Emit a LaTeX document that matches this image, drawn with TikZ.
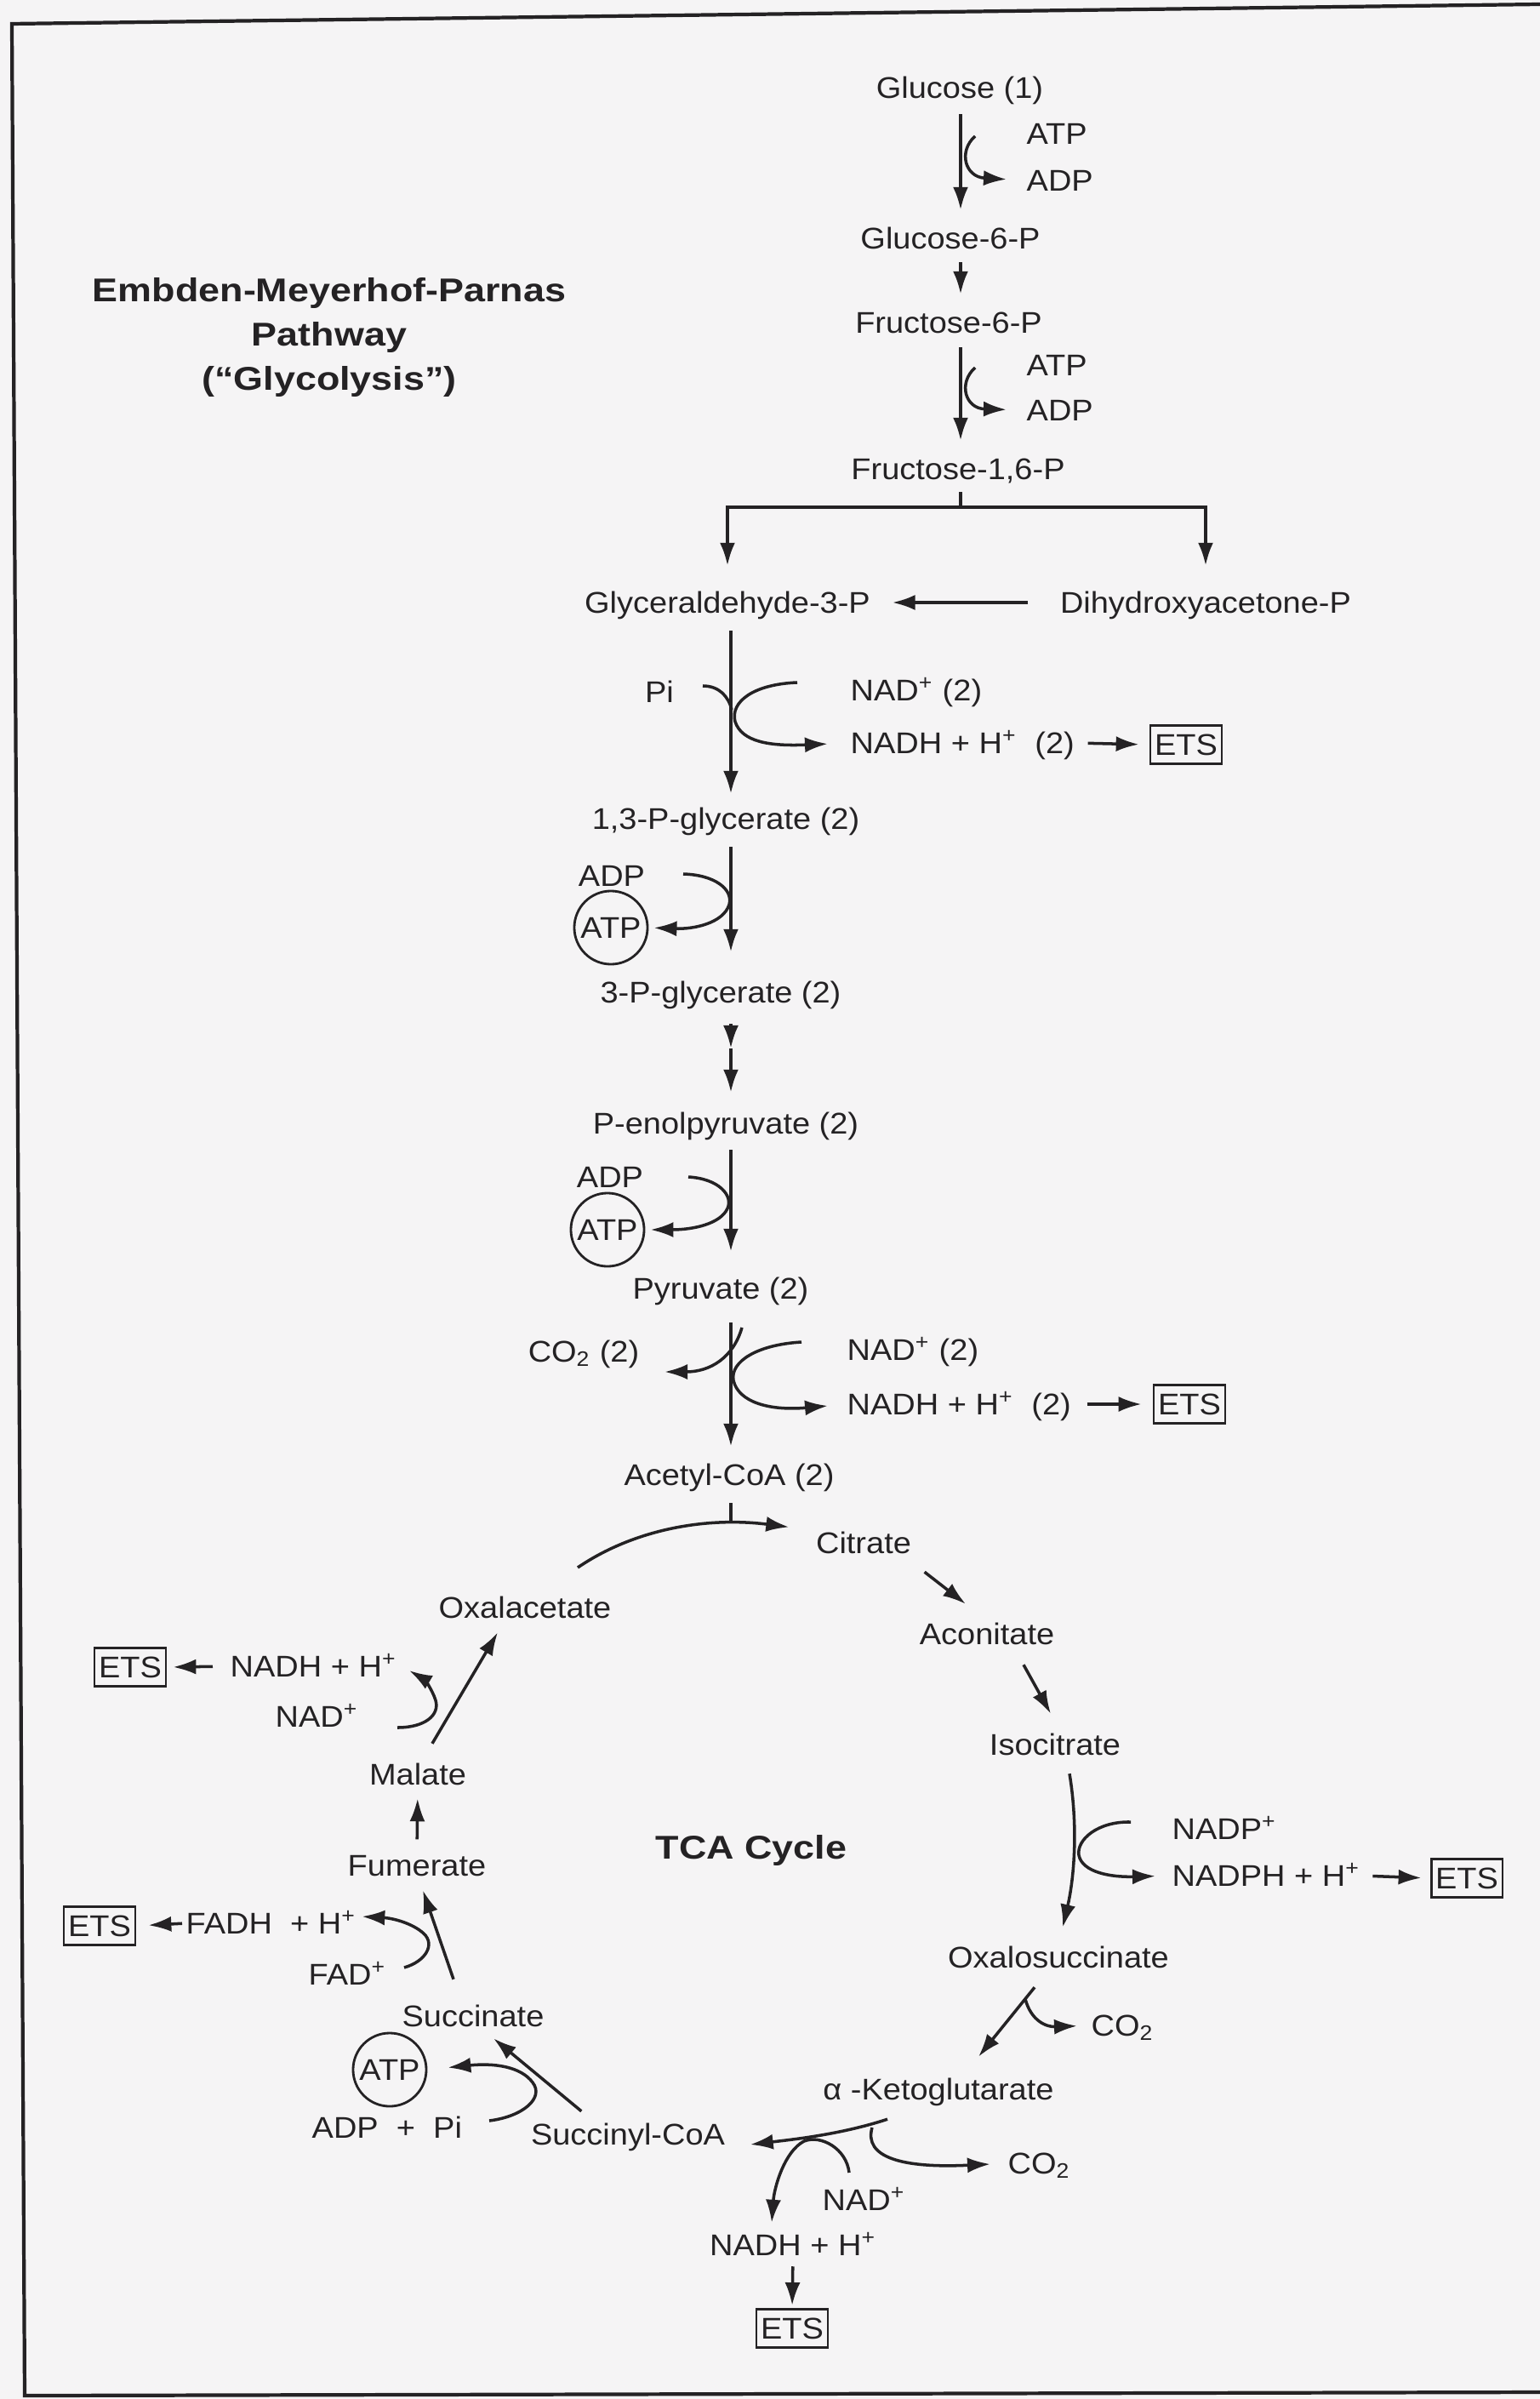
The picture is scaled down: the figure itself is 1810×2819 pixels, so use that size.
\documentclass[tikz,border=0pt]{standalone}
\usepackage{fontspec}
\setmainfont{Liberation Sans}[FakeStretch=1.08]
\newfontfamily\titlefont{Liberation Sans}[FakeStretch=1.16]
\usepackage{tikz}
\usetikzlibrary{
  arrows.meta,%
  calc,%
  positioning
}
\definecolor{paper}{RGB}{245,244,245}
\definecolor{ink}{RGB}{36,34,36}
\tikzset{>={Latex[length=2.7mm,width=1.8mm]}}
\tikzset{
  met/.style={inner sep=0pt, text height=2.5mm, text depth=0pt},
  ttl/.style={inner sep=0pt, text height=2.8mm, text depth=0pt,
    font=\titlefont\bfseries\fontsize{11pt}{13pt}\selectfont},
  ets/.style={draw, line width=0.8pt, inner xsep=0.5mm, inner ysep=1mm,
    text height=2.5mm, text depth=0pt},
  atp/.style={draw, circle, line width=0.8pt, minimum size=8.6mm, inner sep=0pt},
  flow/.style={->, line width=1.1pt, shorten <=1.8mm, shorten >=2mm},
  side/.style={->, line width=1pt},
  twig/.style={line width=1pt}
}

\begin{document}
\begin{tikzpicture}[x=0.01cm, y=-0.01cm, color=ink,
  font=\fontsize{10pt}{12pt}\selectfont]
  \fill[paper] (0,0) rectangle (1810,2819);
  \useasboundingbox (0,0) rectangle (1810,2819);
  % page frame
  \draw[line width=1.2pt] (1810,5) -- (14,28) -- (29,2815) -- (1810,2811);

  % title
  \node[ttl] (emp) at (387,340) {Embden-Meyerhof-Parnas};
  \node[ttl, below=2.3mm of emp] (pwy) {Pathway};
  \node[ttl, below=2.3mm of pwy] (gly) {(“Glycolysis”)};

  % glucose to fructose-1,6-P
  \coordinate (colA) at (1129,0); %
  \node[met] (glc) at (1128,103) {Glucose (1)};
  \node[met, anchor=west] (atpA) at (1206,157) {ATP};
  \node[met, anchor=west] (adpA) at (1206,212) {ADP};
  \node[met] (g6p) at (1117,280) {Glucose-6-P};
  \node[met] (f6p) at (1115,379) {Fructose-6-P};
  \node[met, anchor=west] (atpB) at (1206,429) {ATP};
  \node[met, anchor=west] (adpB) at (1206,482) {ADP};
  \node[met] (f16p) at (1126,551) {Fructose-1,6-P};
  \draw[flow] (glc.south -| colA) -- (g6p.north -| colA); %
  \draw[flow, shorten <=1.5mm] (g6p.south -| colA) -- (f6p.north -| colA); %
  \draw[flow, shorten <=1.6mm] (f6p.south -| colA) -- (f16p.north -| colA); %
  \coordinate (hkA) at (1146,160); %
  \coordinate (hkB) at (1146,432); %
  \draw[side, shorten >=2.3mm] (hkA) .. controls (1126,178) and (1134,208) .. (adpA.west); %
  \draw[side, shorten >=2.3mm] (hkB) .. controls (1126,450) and (1134,480) .. (adpB.west); %

  % split into the two trioses
  \node[met] (gap) at (855,708) {Glyceraldehyde-3-P};
  \node[met] (dhap) at (1417,708) {Dihydroxyacetone-P};
  \coordinate (fork) at (1129,596); %
  \draw[line width=1.1pt, shorten <=1.4mm] (f16p.south -| fork) -- (fork); %
  \draw[flow, shorten <=0pt, shorten >=3mm] (fork) -| (gap.north); %
  \draw[flow, shorten <=0pt, shorten >=3mm] (fork) -| (dhap.north); %
  \draw[flow, shorten <=3.7mm, shorten >=2.5mm] (dhap.west) -- (gap.east); %

  % glyceraldehyde-3-P to acetyl-CoA
  \coordinate (colB) at (859,0); %
  \node[met] (bpg) at (853,962) {1,3-P-glycerate (2)};
  \node[met] (pg3) at (847,1166) {3-P-glycerate (2)};
  \node[met] (pep) at (853,1320) {P-enolpyruvate (2)};
  \node[met] (pyr) at (847,1514) {Pyruvate (2)};
  \node[met] (acoa) at (857,1733) {Acetyl-CoA (2)};
  \coordinate (mid) at (859,1232); %
  \coordinate (join) at (859,1790); %
  \draw[flow, shorten <=2mm, shorten >=1.6mm] (gap.south -| colB) -- (bpg.north -| colB); %
  \draw[flow, shorten <=2mm, shorten >=3.4mm] (bpg.south -| colB) -- (pg3.north -| colB); %
  \draw[flow, shorten <=2.4mm, shorten >=0pt] (pg3.south -| colB) -- (mid); %
  \draw[flow, shorten <=0pt, shorten >=2.3mm] (mid) -- (pep.north -| colB); %
  \draw[flow, shorten >=3mm] (pep.south -| colB) -- (pyr.north -| colB); %
  \draw[flow, shorten <=2.7mm] (pyr.south -| colB) -- (acoa.north -| colB); %
  \draw[line width=1.1pt, shorten <=2mm] (acoa.south -| colB) -- (join); %

  % Pi and NAD+ at the first oxidation
  \node[met] (pi) at (775,813) {Pi};
  \node[met, anchor=west] (nadA) at (999,811) {NAD\textsuperscript{+}~(2)};
  \node[met, anchor=west] (nadhA) at (999,873) {NADH + H\textsuperscript{+}~~(2)};
  \node[ets] (etsA) at (1394,875) {ETS};
  \coordinate (piS) at (826,806); %
  \coordinate (piE) at (860,834); %
  \coordinate (nadAs) at (937,802); %
  \draw[twig] (piS) .. controls (845,806) and (856,818) .. (piE); %
  \draw[side, shorten >=2.6mm] (nadAs) .. controls (885,804) and (858,825) .. (864,848)
    .. controls (872,872) and (905,877) .. (nadhA.west); %
  \draw[side, shorten <=1.5mm, shorten >=1.2mm] (nadhA.east) -- (etsA.west); %

  % substrate level ATP
  \node[met] (adpC) at (719,1029) {ADP};
  \node[atp] (atpC) at (718,1090) {ATP};
  \coordinate (adpCs) at (803,1027); %
  \draw[side, shorten >=0.6mm] (adpCs) .. controls (840,1028) and (862,1045) .. (857,1063)
    .. controls (850,1085) and (815,1092) .. (atpC.east); %
  \node[met] (adpD) at (717,1383) {ADP};
  \node[atp] (atpD) at (714,1445) {ATP};
  \coordinate (adpDs) at (809,1383); %
  \draw[side, shorten >=0.6mm] (adpDs) .. controls (845,1385) and (862,1405) .. (855,1420)
    .. controls (847,1438) and (815,1445) .. (atpD.east); %

  % pyruvate dehydrogenase
  \node[met] (co2A) at (686,1588) {CO\textsubscript{2} (2)};
  \node[met, anchor=west] (nadB) at (995,1586) {NAD\textsuperscript{+}~(2)};
  \node[met, anchor=west] (nadhB) at (995,1650) {NADH + H\textsuperscript{+}~~(2)};
  \node[ets] (etsB) at (1398,1650) {ETS};
  \coordinate (co2As) at (872,1560); %
  \coordinate (co2Ae) at (781,1612); %
  \coordinate (nadBs) at (942,1577); %
  \draw[side] (co2As) .. controls (862,1595) and (835,1612) .. (co2Ae); %
  \draw[side, shorten >=2.2mm] (nadBs) .. controls (890,1580) and (858,1600) .. (862,1622)
    .. controls (868,1648) and (905,1658) .. (nadhB.west); %
  \draw[side, shorten <=1.8mm, shorten >=1.3mm] (nadhB.east) -- (etsB.west); %

  % TCA cycle
  \node[ttl] (tca) at (883,2170) {TCA Cycle};
  \node[met] (cit) at (1015,1813) {Citrate};
  \node[met] (aco) at (1160,1920) {Aconitate};
  \node[met] (iso) at (1240,2050) {Isocitrate};
  \node[met] (oxs) at (1244,2300) {Oxalosuccinate};
  \node[met] (akg) at (1103,2455) {α -Ketoglutarate};
  \node[met] (sca) at (738,2508) {Succinyl-CoA};
  \node[met] (suc) at (556,2369) {Succinate};
  \node[met] (fum) at (490,2192) {Fumerate};
  \node[met] (mal) at (491,2085) {Malate};
  \node[met] (oxa) at (617,1889) {Oxalacetate};
  \coordinate (oxaT) at (679,1842); %
  \draw[side, shorten >=0.3mm] (oxaT) .. controls (745,1797) and (830,1782)
    .. ($(cit.north west)+(-28,-5)$); %
  \draw[side] ($(cit.south east)+(15,21)$) -- ($(aco.north)+(-25,-22)$); %
  \draw[side] ($(aco.south)+(43,23)$) -- ($(iso.north)+(-5,-23)$); %
  \draw[side] ($(iso.south)+(17,21)$) .. controls +(10,60) and +(14,-60)
    .. ($(oxs.north)+(5,-22)$); %
  \draw[side] ($(oxs.south)+(-28,22)$) -- ($(akg.north)+(47,-25)$); %
  \draw[side] ($(akg.south)+(-60,22)$) .. controls +(-55,18) and +(50,-6)
    .. ($(sca.east)+(29,12)$); %
  \draw[side] ($(sca.north west)+(60,-14)$) -- ($(suc.south)+(24,13)$); %
  \draw[side] ($(suc.north)+(-23,-30)$) -- ($(fum.south)+(7,16)$); %
  \draw[side, shorten <=1.75mm, shorten >=1.5mm] (fum.north) -- (mal.south); %
  \draw[side] ($(mal.north)+(17,-23)$) -- ($(oxa.south)+(-32,16)$); %

  % isocitrate dehydrogenase
  \node[met, anchor=west] (nadp) at (1377,2149) {NADP\textsuperscript{+}};
  \node[met, anchor=west] (nadph) at (1377,2204) {NADPH + H\textsuperscript{+}};
  \node[ets] (etsC) at (1724,2207) {ETS};
  \coordinate (nadpS) at (1329,2141); %
  \draw[side, shorten >=1.9mm] (nadpS) .. controls (1290,2140) and (1265,2162) .. (1268,2180)
    .. controls (1272,2200) and (1305,2206) .. (nadph.west); %
  \draw[side, shorten <=1.4mm, shorten >=1mm] (nadph.east) -- (etsC.west); %

  % decarboxylations
  \node[met, anchor=west] (co2B) at (1282,2380) {CO\textsubscript{2}};
  \coordinate (co2Bs) at (1205,2349); %
  \draw[side, shorten >=1.6mm] (co2Bs) .. controls (1212,2375) and (1230,2382) .. (co2B.west); %
  \node[met, anchor=west] (co2C) at (1184,2542) {CO\textsubscript{2}};
  \coordinate (co2Cs) at (1025,2500); %
  \draw[side, shorten >=2mm] (co2Cs) .. controls (1015,2535) and (1060,2548) .. (co2C.west); %

  % alpha-ketoglutarate dehydrogenase
  \node[met, anchor=west] (nadC) at (966,2585) {NAD\textsuperscript{+}};
  \node[met] (nadhC) at (932,2638) {NADH + H\textsuperscript{+}};
  \node[ets] (etsD) at (931,2736) {ETS};
  \coordinate (nadCs) at (998,2553); %
  \draw[side] (nadCs) .. controls (995,2525) and (965,2508) .. (945,2516)
    .. controls (922,2528) and (910,2570) .. ($(nadhC.north)+(-25,-13)$); %
  \draw[side, shorten <=1.2mm, shorten >=0.3mm] (nadhC.south) -- (etsD.north); %

  % succinyl-CoA synthetase
  \node[atp] (atpE) at (458,2432) {ATP};
  \node[met, anchor=west] (adppi) at (366,2500) {ADP~~+~~Pi};
  \coordinate (adpEs) at (575,2492); %
  \draw[side, shorten >=2.4mm] (adpEs) .. controls (615,2487) and (640,2465) .. (626,2447)
    .. controls (612,2428) and (580,2424) .. (atpE.east); %

  % succinate dehydrogenase
  \node[met, anchor=west] (fad) at (362,2320) {FAD\textsuperscript{+}};
  \node[met, anchor=west] (fadh) at (218,2260) {FADH~~+ H\textsuperscript{+}};
  \node[ets] (etsE) at (117,2263) {ETS};
  \coordinate (fadS) at (475,2312); %
  \draw[side] (fadS) .. controls (500,2305) and (512,2285) .. (498,2272)
    .. controls (485,2260) and (462,2254) .. ($(fadh.east)+(6,-8)$); %
  \draw[side, shorten <=0.4mm, shorten >=1.4mm] (fadh.west) -- (etsE.east); %

  % malate dehydrogenase
  \node[met, anchor=west] (nadD) at (323,2017) {NAD\textsuperscript{+}};
  \node[met, anchor=west] (nadhD) at (270,1958) {NADH + H\textsuperscript{+}};
  \node[ets] (etsF) at (153,1959) {ETS};
  \coordinate (nadDs) at (467,2030); %
  \draw[side] (nadDs) .. controls (500,2030) and (517,2015) .. (512,1998)
    .. controls (508,1985) and (498,1973) .. ($(nadhD.east)+(14,5)$); %
  \draw[side, shorten <=2mm, shorten >=0.7mm] (nadhD.west) -- (etsF.east); %
\end{tikzpicture}
\end{document}
